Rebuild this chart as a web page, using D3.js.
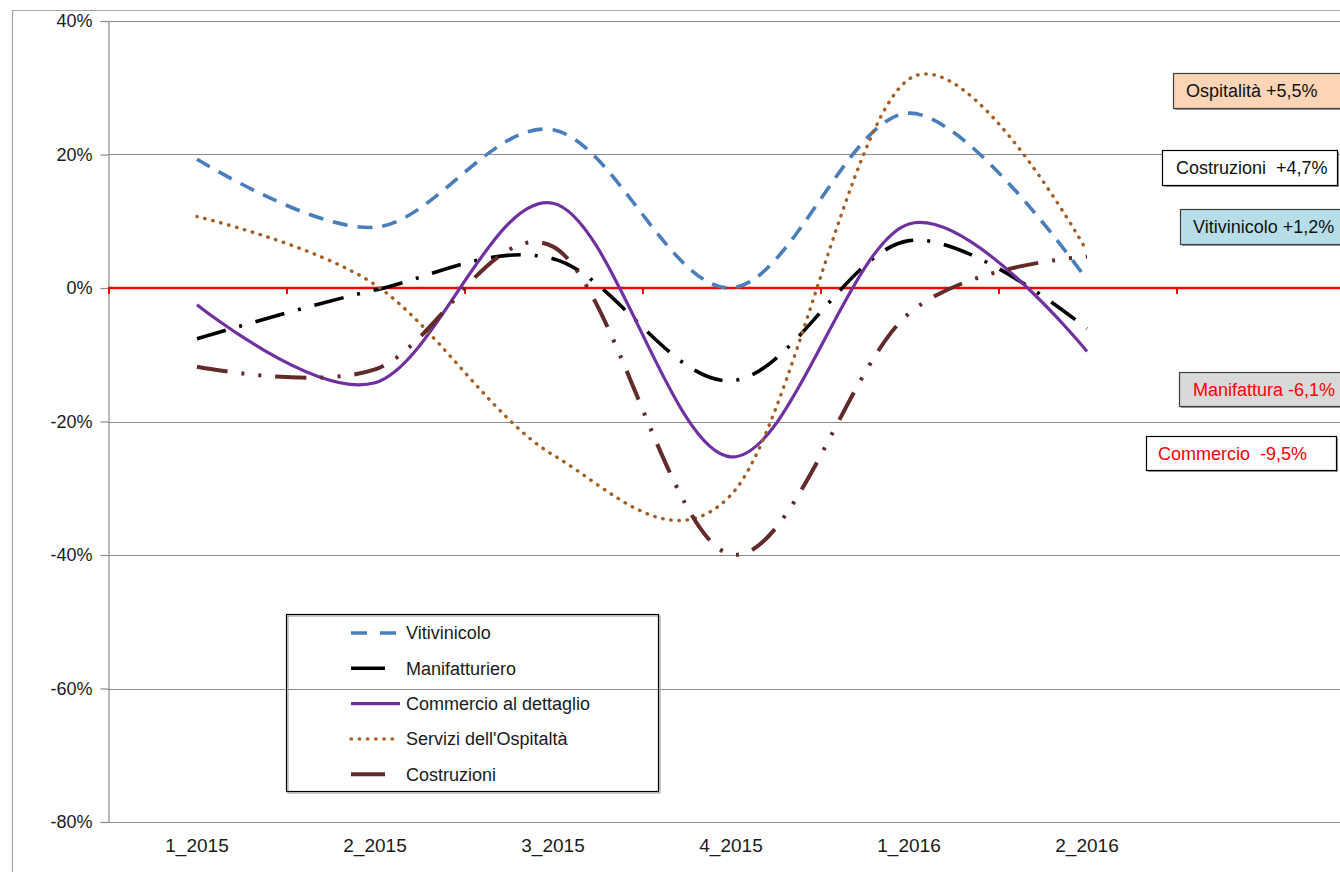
<!DOCTYPE html>
<html>
<head>
<meta charset="utf-8">
<script src="https://cdn.jsdelivr.net/npm/d3@7"></script>
<style>
  html, body { margin: 0; padding: 0; background: #fff; }
  svg { display: block; }
  text { font-family: "Liberation Sans", Arial, sans-serif; }
</style>
</head>
<body>
<svg id="chart" width="1340" height="872"></svg>
<script>
// Quarters on the category axis (the last slot is left empty)
const quarters = ["1_2015", "2_2015", "3_2015", "4_2015", "1_2016", "2_2016", ""];

// Quarterly change (%) by sector
const vitivinicolo   = [19.3,  9.1, 23.7,   0.0, 26.2,  1.2];
const manifatturiero = [-7.6, -0.3,  4.4, -13.9,  7.1, -6.1];
const commercio      = [-2.5, -14.2, 12.7, -25.3,  9.6, -9.5];
const ospitalita     = [10.7,  0.5, -25.0, -31.0, 31.3,  5.5];
const costruzioni    = [-11.8, -12.2, 6.2, -39.9, -3.8,  4.7];

const seriesNames = ["Vitivinicolo", "Manifatturiero", "Commercio al dettaglio", "Servizi dell'Ospitaltà", "Costruzioni"];

// Y axis tick values (%)
const yTicks = [40, 20, 0, -20, -40, -60, -80];

// Short names used in the call-out boxes for the latest quarter
const calloutNames = ["Ospitalità", "Costruzioni ", "Vitivinicolo", "Manifattura", "Commercio "];

const svg = d3.select("#chart");

const plot = { left: 108, top: 21, bottom: 822, right: 1354 };

const x = d3.scaleBand().domain(quarters).range([plot.left, plot.right]).paddingInner(0).paddingOuter(0);
const y = d3.scaleLinear().domain([-80, 40]).range([plot.bottom, plot.top]);
const xc = q => x(q) + x.bandwidth() / 2;

// Outer chart frame
svg.append("path")
  .attr("d", "M12.5,880 V10.5 H1350")
  .attr("fill", "none").attr("stroke", "#a6a6a6").attr("stroke-width", 1.2);

// Horizontal gridlines
svg.append("g").selectAll("line")
  .data(yTicks.filter(t => t !== 0))
  .join("line")
  .attr("x1", plot.left).attr("x2", plot.right)
  .attr("y1", d => Math.round(y(d)) + 0.5).attr("y2", d => Math.round(y(d)) + 0.5)
  .attr("stroke", "#8c8c8c").attr("stroke-width", 1.2);

// Y axis
const yAxis = d3.axisLeft(y).tickValues(yTicks).tickSize(8).tickPadding(8)
  .tickFormat(d => d + "%");
const gy = svg.append("g").attr("transform", `translate(${plot.left + 0.5},0)`).call(yAxis);
gy.select(".domain").attr("stroke", "#8c8c8c").attr("stroke-width", 1.2);
gy.selectAll(".tick line").attr("stroke", "#8c8c8c").attr("stroke-width", 1.2);
gy.selectAll(".tick text").attr("font-size", 18).attr("fill", "#1a1a1a")
  .attr("font-family", "'Liberation Sans', Arial, sans-serif");

// Category axis labels along the bottom
svg.append("g").selectAll("text")
  .data(quarters.filter(q => q !== ""))
  .join("text")
  .attr("x", d => xc(d))
  .attr("y", 852)
  .attr("text-anchor", "middle")
  .attr("font-size", 19)
  .attr("fill", "#1a1a1a")
  .text(d => d);

// Zero line (category axis crossing) with tick marks at category boundaries
const zeroY = y(0);
svg.append("line")
  .attr("x1", plot.left).attr("x2", plot.right)
  .attr("y1", zeroY).attr("y2", zeroY)
  .attr("stroke", "#ff0000").attr("stroke-width", 2.6);
svg.append("g").selectAll("line")
  .data(quarters)
  .join("line")
  .attr("x1", d => x(d) + 1).attr("x2", d => x(d) + 1)
  .attr("y1", zeroY).attr("y2", zeroY + 6)
  .attr("stroke", "#ff0000").attr("stroke-width", 2);

// Line styles per series
const styles = [
  { color: "#4a7ebb", width: 3.6, dash: "15,10", cap: "butt", legendDash: "16,13" },
  { color: "#000000", width: 3.6, dash: "30,14,3,14", cap: "butt", legendDash: "34,30" },
  { color: "#7030a0", width: 3.2, dash: null, cap: "butt", legendDash: null },
  { color: "#a65f23", width: 3.4, dash: "0.5,7.7", cap: "round", legendDash: "0.5,7.7" },
  { color: "#632a2a", width: 4, dash: "31,14,3,14,3,14", cap: "butt", legendDash: "34,30" }
];

const seriesValues = [vitivinicolo, manifatturiero, commercio, ospitalita, costruzioni];
const series = seriesNames.map((name, i) => ({ name, values: seriesValues[i], style: styles[i] }));

const line = d3.line()
  .x((d, i) => xc(quarters[i]))
  .y(d => y(d))
  .curve(d3.curveCardinal.tension(0));

svg.append("g").selectAll("path")
  .data(series)
  .join("path")
  .attr("d", d => line(d.values))
  .attr("fill", "none")
  .attr("stroke", d => d.style.color)
  .attr("stroke-width", d => d.style.width)
  .attr("stroke-dasharray", d => d.style.dash)
  .attr("stroke-linecap", d => d.style.cap)
  .attr("stroke-linejoin", "round");

// Legend (transparent box)
const legend = { x: 286.5, y: 614.5, w: 372, h: 177, rowH: 35.3, first: 633 };
svg.append("rect")
  .attr("x", legend.x + 1.5).attr("y", legend.y + 1.5)
  .attr("width", legend.w).attr("height", legend.h)
  .attr("fill", "none").attr("stroke", "#9a9a9a").attr("stroke-width", 1);
svg.append("rect")
  .attr("x", legend.x).attr("y", legend.y)
  .attr("width", legend.w).attr("height", legend.h)
  .attr("fill", "none").attr("stroke", "#000").attr("stroke-width", 1.2);

const lg = svg.append("g").selectAll("g")
  .data(series)
  .join("g")
  .attr("transform", (d, i) => `translate(0,${legend.first + i * legend.rowH})`);
lg.append("line")
  .attr("x1", 351).attr("x2", 400).attr("y1", 0).attr("y2", 0)
  .attr("stroke", d => d.style.color)
  .attr("stroke-width", d => d.style.width)
  .attr("stroke-dasharray", d => d.style.legendDash)
  .attr("stroke-linecap", d => d.style.cap);
lg.append("text")
  .attr("x", 406).attr("y", 0).attr("dy", "0.35em")
  .attr("font-size", 18).attr("fill", "#1a1a1a")
  .text(d => d.name);

// Call-out boxes with the latest quarter change
const fmt = v => (v > 0 ? "+" : "") + v.toFixed(1).replace(".", ",") + "%";
const last = arr => arr[arr.length - 1];
const calloutValues = [last(ospitalita), last(costruzioni), last(vitivinicolo), last(manifatturiero), last(commercio)];
const calloutLayout = [
  { x: 1173.5, y: 73.5,  w: 190, h: 35, fill: "#fbd5b5", stroke: "#404040", text: "#111",    tx: 1186 },
  { x: 1162.5, y: 150.5, w: 175, h: 35, fill: "#ffffff", stroke: "#000",    text: "#111",    tx: 1176 },
  { x: 1180.5, y: 209.5, w: 190, h: 35, fill: "#b7dde8", stroke: "#404040", text: "#111",    tx: 1193 },
  { x: 1179.5, y: 372.5, w: 190, h: 34, fill: "#d9d9d9", stroke: "#404040", text: "#ff0000", tx: 1193 },
  { x: 1146.5, y: 436.5, w: 190, h: 34, fill: "#ffffff", stroke: "#000",    text: "#ff0000", tx: 1158 }
];
const co = svg.append("g").selectAll("g")
  .data(calloutLayout.map((l, i) => ({ ...l, label: calloutNames[i] + " " + fmt(calloutValues[i]) })))
  .join("g");
co.append("rect")
  .attr("x", d => d.x + 1.5).attr("y", d => d.y + 1.5).attr("width", d => d.w).attr("height", d => d.h)
  .attr("fill", "#9a9a9a");
co.append("rect")
  .attr("x", d => d.x).attr("y", d => d.y).attr("width", d => d.w).attr("height", d => d.h)
  .attr("fill", d => d.fill).attr("stroke", d => d.stroke).attr("stroke-width", 1.2);
co.append("text")
  .attr("x", d => d.tx).attr("y", d => d.y + d.h / 2).attr("dy", "0.35em")
  .attr("font-size", 18).attr("fill", d => d.text)
  .style("white-space", "pre")
  .text(d => d.label);
</script>
</body>
</html>
